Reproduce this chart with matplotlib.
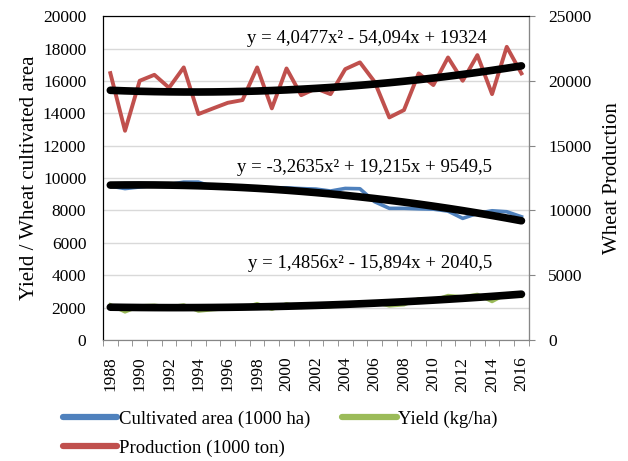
import numpy as np
import matplotlib
matplotlib.use("Agg")
import matplotlib.pyplot as plt
from matplotlib.lines import Line2D

plt.rcParams['font.family'] = ['Liberation Serif', 'DejaVu Serif']

years = list(range(1988, 2017))
area = [9500, 9350, 9450, 9550, 9600, 9750, 9750, 9450, 9450, 9400,
        9400, 9400, 9400, 9350, 9320, 9200, 9360, 9340, 8540, 8130,
        8130, 8100, 8080, 7960, 7510, 7820, 7980, 7920, 7610]
yield_ = [2170, 1740, 2100, 2140, 2030, 2160, 1790, 1880, 1940, 1970,
          2240, 1900, 2230, 2020, 2080, 2060, 2230, 2290, 2330, 2110,
          2180, 2540, 2440, 2740, 2660, 2810, 2380, 2860, 2700]
production = [20600, 16150, 20010, 20470, 19470, 21040, 17440, 17880, 18310, 18520,
              21040, 17880, 20960, 18900, 19420, 18980, 20910, 21430, 19930, 17180,
              17750, 20580, 19680, 21810, 20010, 21990, 18980, 22630, 20580]

# trendline coefficients as printed on the chart (x = 1..29)
coef_prod = (4.0477, -54.094, 19324)
coef_area = (-3.2635, 19.215, 9549.5)
coef_yield = (1.4856, -15.894, 2040.5)

blue = '#4F81BD'
green = '#9BBB59'
red = '#C0504D'

fig = plt.figure(figsize=(6.28, 4.61), dpi=100)
ax = fig.add_axes([0.164, 0.2625, 0.678, 0.7025])
ax2 = ax.twinx()

xs = np.arange(1, len(years) + 1)
yrs = np.array(years)

def trend(c):
    return c[0] * xs ** 2 + c[1] * xs + c[2]

ax.plot(yrs, area, color=blue, lw=2.6, solid_joinstyle='round', zorder=3)
ax.plot(yrs, yield_, color=green, lw=2.6, solid_joinstyle='round', zorder=3)
ax.plot(yrs, trend(coef_area), color='black', lw=5.5, solid_capstyle='round', zorder=4)
ax.plot(yrs, trend(coef_yield), color='black', lw=5.5, solid_capstyle='round', zorder=4)

ax2.plot(yrs, production, color=red, lw=2.8, solid_joinstyle='round', zorder=3)
ax2.plot(yrs, trend(coef_prod), color='black', lw=5.5, solid_capstyle='round', zorder=4)

ax.set_xlim(1987.6, 2016.4)
ax.set_ylim(0, 20000)
ax2.set_ylim(0, 25000)
ax.set_yticks(range(0, 20001, 2000))
ax2.set_yticks(range(0, 25001, 5000))
ax.grid(axis='y', color='#D9D9D9', lw=1)
ax.set_axisbelow(True)

ax.set_xticks(years[::2])
ax.set_xticklabels([str(y) for y in years[::2]], rotation=90, fontsize=12.5)
ax.set_xticks(np.arange(1987.5, 2016.6, 1), minor=True)
ax.tick_params(axis='x', which='major', length=0, pad=12)
ax.tick_params(axis='x', which='minor', length=4, color='#868686')
ax.tick_params(axis='y', length=0, labelsize=12.5, pad=12)
ax2.tick_params(axis='y', length=4, color='#868686', labelsize=12.5, pad=10)

for sp in ['left', 'top']:
    ax2.spines[sp].set_color('black')
for sp in ['right', 'bottom']:
    ax2.spines[sp].set_color('#868686')
ax.spines['bottom'].set_color('#868686')

ax.set_ylabel('Yield / Wheat cultivated area', fontsize=15, labelpad=3)
ax2.set_ylabel('Wheat Production', fontsize=15, labelpad=8)

ax.text(2005.5, 18600, 'y = 4,0477x² - 54,094x + 19324', fontsize=13.5, ha='center', va='center')
ax.text(2005.3, 10650, 'y = -3,2635x² + 19,215x + 9549,5', fontsize=13.5, ha='center', va='center')
ax.text(2005.7, 4700, 'y = 1,4856x² - 15,894x + 2040,5', fontsize=13.5, ha='center', va='center')

# order so that rows read: area, yield / production
handles = [Line2D([], [], color=blue, lw=4.5, solid_capstyle='round'),
           Line2D([], [], color=red, lw=4.5, solid_capstyle='round'),
           Line2D([], [], color=green, lw=4.5, solid_capstyle='round')]
labels = ['Cultivated area (1000 ha)', 'Production (1000 ton)', 'Yield (kg/ha)']
fig.legend(handles, labels, loc='lower left', bbox_to_anchor=(0.073, -0.028), ncol=2,
           frameon=False, fontsize=13.5, handlelength=2.9, handletextpad=0.1,
           columnspacing=1.7, labelspacing=0.62)

fig.savefig('out.png', dpi=100)
